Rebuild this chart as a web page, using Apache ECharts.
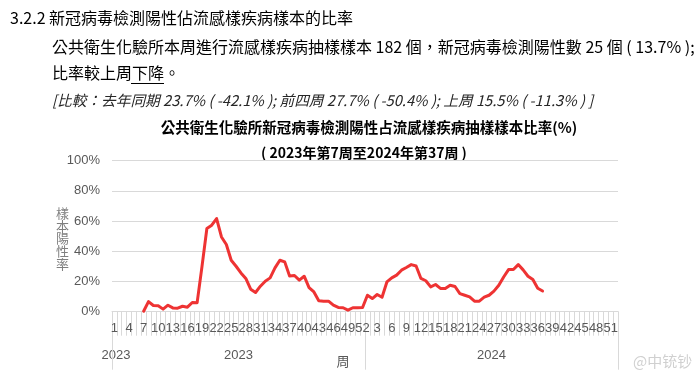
<!DOCTYPE html>
<html>
<head>
<meta charset="utf-8">
<script src="https://cdn.jsdelivr.net/npm/echarts@6/dist/echarts.min.js"></script>
<style>
html,body{margin:0;padding:0;background:#fff;}
#c{width:700px;height:379px;}
</style>
</head>
<body>
<div id="c"></div>
<script>
// ---- data ----
var years = ['2023', '2024'];
var weeks2023 = ['1','2','3','4','5','6','7','8','9','10','11','12','13','14','15','16','17','18','19','20','21','22','23','24','25','26','27','28','29','30','31','32','33','34','35','36','37','38','39','40','41','42','43','44','45','46','47','48','49','50','51','52'];
var weeks2024 = ['1','2','3','4','5','6','7','8','9','10','11','12','13','14','15','16','17','18','19','20','21','22','23','24','25','26','27','28','29','30','31','32','33','34','35','36','37','38','39','40','41','42','43','44','45','46','47','48','49','50','51','52'];
// positivity (%) by week; null = no data shown
var positive2023 = [null,null,null,null,null,null,0.3,6.7,4.1,3.9,1.7,4.3,2.5,2.3,3.6,3.0,6.1,6.0,30.0,55.1,57.3,61.7,49.5,44.5,34.1,30.1,25.7,22.0,14.9,12.7,16.9,20.2,22.4,29.0,34.1,33.0,23.7,24.0,20.9,23.5,16.0,13.1,7.2,7.0,7.0,4.3,2.8,2.6,1.0,2.6,2.6,2.8];
var positive2024 = [10.9,8.7,11.4,9.6,19.7,22.4,24.2,27.5,29.3,31.2,30.3,22.0,20.5,16.4,18.0,15.4,15.4,17.5,16.7,12.0,10.9,9.8,7.0,7.0,9.6,10.9,13.6,17.5,23.0,27.9,27.9,31.2,27.7,23.5,21.3,15.5,13.7,null,null,null,null,null,null,null,null,null,null,null,null,null,null,null];
var yTicks = [0, 20, 40, 60, 80, 100];

var categories = weeks2023.concat(weeks2024);
var values = positive2023.concat(positive2024);

var CJK = '"Noto Sans CJK TC", "Noto Sans CJK SC", sans-serif';
var NUM = '"Liberation Sans", "Noto Sans CJK TC", sans-serif';
var grey = '#595959';
var gridCol = '#d9d9d9';

var chart = echarts.init(document.getElementById('c'));
chart.setOption({
  animation: false,
  backgroundColor: '#ffffff',
  grid: { left: 112, right: 82, top: 160.7, bottom: 67.3, containLabel: false },
  xAxis: [{
    type: 'category',
    data: categories,
    boundaryGap: true,
    axisLine: { show: true, lineStyle: { color: gridCol, width: 1 } },
    axisTick: { show: true, interval: 0, length: 24, alignWithLabel: false, lineStyle: { color: gridCol } },
    axisLabel: { interval: 2, margin: 10, color: grey, fontSize: 13, fontFamily: NUM, hideOverlap: false },
    splitLine: { show: false }
  }, {
    type: 'category',
    data: years,
    position: 'bottom',
    boundaryGap: true,
    axisLine: { show: false },
    axisTick: { show: true, interval: 0, length: 58, lineStyle: { color: gridCol } },
    axisLabel: { interval: 0, margin: 37, color: grey, fontSize: 13, fontFamily: NUM },
    splitLine: { show: false }
  }],
  yAxis: {
    type: 'value',
    min: yTicks[0],
    max: yTicks[yTicks.length - 1],
    interval: yTicks[1] - yTicks[0],
    axisLine: { show: false },
    axisTick: { show: false },
    axisLabel: { formatter: '{value}%', color: grey, fontSize: 13, fontFamily: NUM, margin: 12 },
    splitLine: { show: true, lineStyle: { color: gridCol, width: 1 } }
  },
  series: [{
    type: 'line',
    data: values,
    xAxisIndex: 0,
    showSymbol: false,
    symbol: 'none',
    connectNulls: false,
    lineStyle: { color: '#ee3333', width: 3, cap: 'round', join: 'round' },
    itemStyle: { color: '#ee3333' }
  }],
  graphic: [
    { type: 'text', style: { x: 10, y: 18, text: '3.2.2 新冠病毒檢測陽性佔流感樣疾病樣本的比率', fontSize: 16, fontFamily: CJK, fill: '#000', verticalAlign: 'middle' } },
    { type: 'text', style: { x: 52, y: 47, text: '公共衛生化驗所本周進行流感樣疾病抽樣樣本 182 個，新冠病毒檢測陽性數 25 個 ( 13.7% );', fontSize: 16, fontFamily: CJK, fill: '#000', verticalAlign: 'middle' } },
    { type: 'text', style: { x: 52, y: 73, text: '比率較上周下降。', fontSize: 16, fontFamily: CJK, fill: '#000', verticalAlign: 'middle' } },
    { type: 'line', shape: { x1: 131, y1: 83.5, x2: 164, y2: 83.5 }, style: { stroke: '#000', lineWidth: 1 } },
    { type: 'text', style: { x: 52, y: 100, text: '[比較：去年同期 23.7% ( -42.1% ); 前四周 27.7% ( -50.4% ); 上周 15.5% ( -11.3% ) ]', fontSize: 14.7, fontStyle: 'italic', fontFamily: CJK, fill: '#262626', verticalAlign: 'middle' } },
    { type: 'text', style: { x: 369, y: 127, text: '公共衛生化驗所新冠病毒檢測陽性占流感樣疾病抽樣樣本比率(%)', fontSize: 14.5, fontWeight: 'bold', fontFamily: CJK, fill: '#000', align: 'center', verticalAlign: 'middle' } },
    { type: 'text', style: { x: 364, y: 153, text: '( 2023年第7周至2024年第37周 )', fontSize: 14, fontWeight: 'bold', fontFamily: CJK, fill: '#000', align: 'center', verticalAlign: 'middle' } },
    { type: 'text', style: { x: 62.5, y: 238.5, text: '樣\n本\n陽\n性\n率', fontSize: 13, lineHeight: 12.6, fontFamily: CJK, fill: '#7f7f7f', align: 'center', verticalAlign: 'middle' } },
    { type: 'text', style: { x: 116, y: 355, text: '2023', fontSize: 13, fontFamily: NUM, fill: grey, align: 'center', verticalAlign: 'middle' } },
    { type: 'text', style: { x: 343, y: 361, text: '周', fontSize: 13, fontFamily: CJK, fill: grey, align: 'center', verticalAlign: 'middle' } },
    { type: 'text', style: { x: 633, y: 361, text: '@中铳钞', fontSize: 15, fontFamily: CJK, fill: '#d0d0d0', verticalAlign: 'middle' } }
  ]
});
</script>
</body>
</html>
